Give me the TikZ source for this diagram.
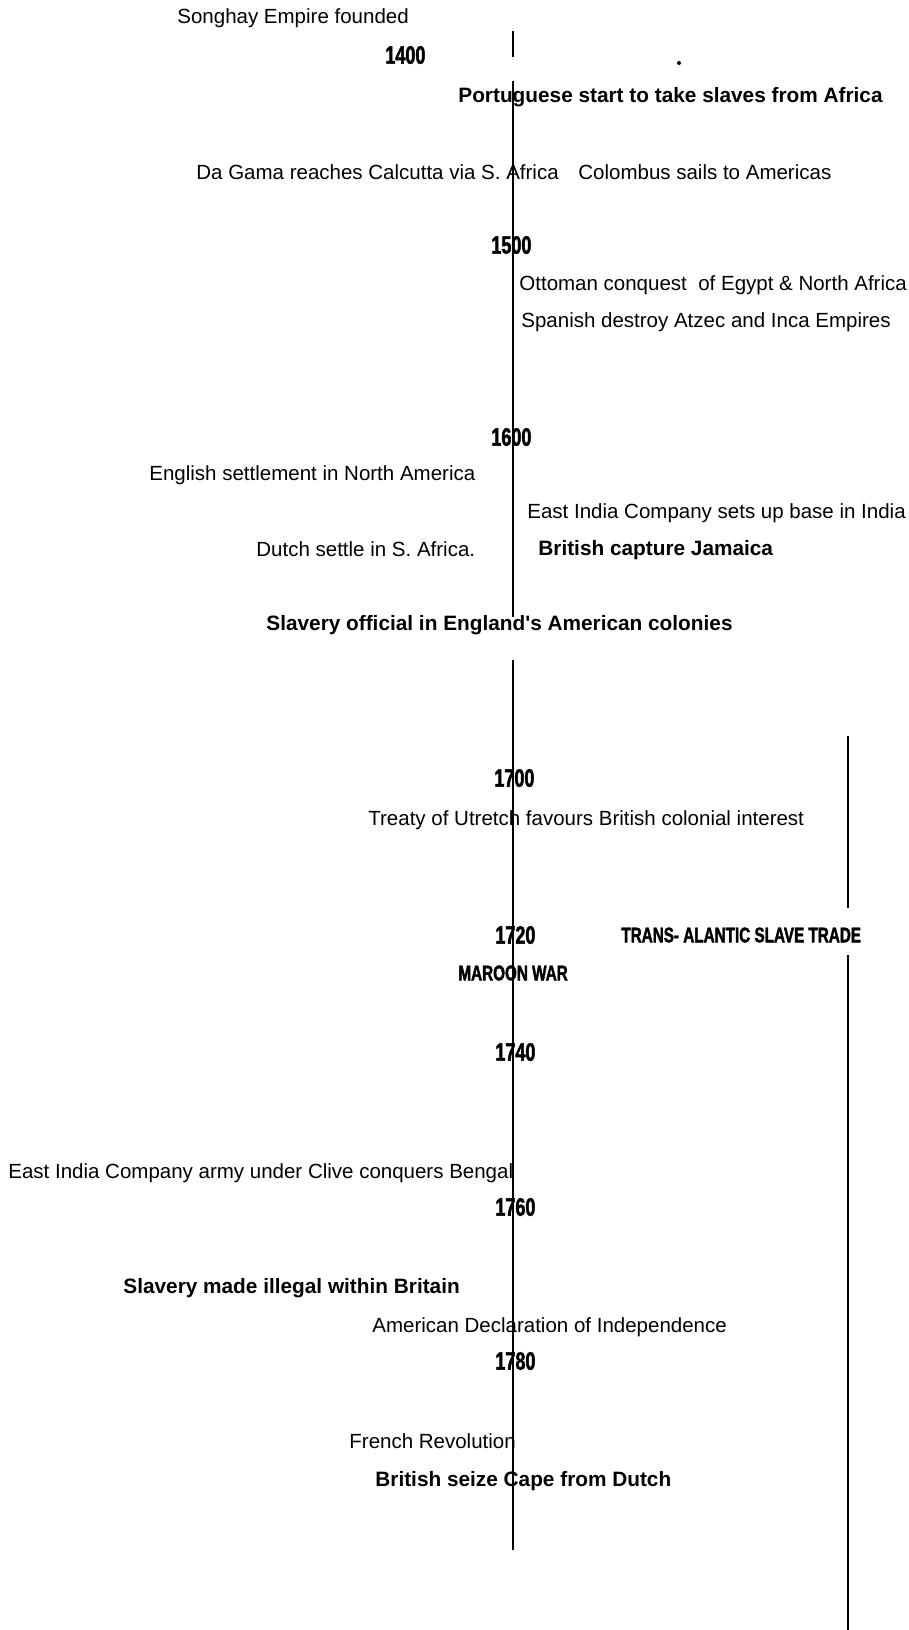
\documentclass[tikz,border=0pt]{standalone}
\usepackage{fontspec}
\setmainfont{Liberation Sans}
\newfontfamily\yearfont[FakeStretch=0.72,FakeBold=1.8]{Liberation Sans}
\tikzset{
  % an event, set plain
  ev/.style   = {font=\fontsize{10.25}{12}\selectfont, inner sep=0pt, anchor=west},
  % an event, set bold
  evb/.style  = {font=\fontsize{10.4}{12}\selectfont\bfseries, inner sep=0pt,
                 anchor=west},
  % a year on the time line
  yr/.style   = {font=\fontsize{12.5}{14}\selectfont\yearfont\bfseries,
                 inner sep=0pt, anchor=west},
  % a heading in the same heavy face
  hd/.style   = {font=\fontsize{10.6}{13}\selectfont\yearfont\bfseries,
                 inner sep=0pt, anchor=west},
  % the time lines
  tl/.style   = {line width=1pt},
}
\begin{document}
\begin{tikzpicture}[x=0.5pt, y=-0.5pt]
  \useasboundingbox (0,0) rectangle (909,1630);
  % --- the main time line, in three pieces ---
  \coordinate (ma) at (513,  31);
  \coordinate (mb) at (513,  57);
  \coordinate (mc) at (513,  81);
  \coordinate (md) at (513, 617);
  \coordinate (me) at (513, 660);
  \coordinate (mf) at (513,1550);
  \draw[tl] (ma) -- (mb);
  \draw[tl] (mc) -- (md);
  \draw[tl] (me) -- (mf);
  % --- the slave trade bar ---
  \coordinate (sa) at (848, 736);
  \coordinate (sb) at (848, 908);
  \coordinate (sc) at (848, 955);
  \coordinate (sd) at (848,1630);
  \draw[tl] (sa) -- (sb);
  \draw[tl] (sc) -- (sd);
  \fill (679,63) circle (2);
  % --- years ---
  \node[yr] (y1400) at (385,  55) {1400};
  \node[yr] (y1500) at (491, 245) {1500};
  \node[yr] (y1600) at (491, 437) {1600};
  \node[yr] (y1700) at (494, 778) {1700};
  \node[yr] (y1720) at (495, 935) {1720};
  \node[yr] (y1740) at (495,1052) {1740};
  \node[yr] (y1760) at (495,1207) {1760};
  \node[yr] (y1780) at (495,1361) {1780};
  % --- events ---
  \node[ev]  (songhay)  at (177,  18) {Songhay Empire founded};
  \node[evb] (portug)   at (458,  97) {Portuguese start to take slaves from Africa};
  \node[ev]  (dagama)   at (196, 172) {Da Gama reaches Calcutta via S. Africa};
  \node[ev]  (colomb)   at (578, 172) {Colombus sails to Americas};
  \node[ev]  (ottoman)  at (519, 285) {Ottoman conquest\ \ of Egypt \& North Africa};
  \node[ev]  (spanish)  at (521, 322) {Spanish destroy Atzec and Inca Empires};
  \node[ev]  (english)  at (149, 475) {English settlement in North America};
  \node[ev]  (eicbase)  at (527, 513) {East India Company sets up base in India};
  \node[ev]  (dutch)    at (256, 549) {Dutch settle in S. Africa.};
  \node[evb] (jamaica)  at (538, 550) {British capture Jamaica};
  \node[evb] (official) at (266, 625) {Slavery official in England\textquotesingle s American colonies};
  \node[ev]  (utrecht)  at (368, 820) {Treaty of Utretch favours British colonial interest};
  \node[hd]  (trade)    at (621, 935) {TRANS- ALANTIC SLAVE TRADE};
  \node[hd]  (maroon)   at (458, 973) {MAROON WAR};
  \node[ev]  (clive)    at (  8,1173) {East India Company army under Clive conquers Bengal};
  \node[evb] (illegal)  at (123,1288) {Slavery made illegal within Britain};
  \node[ev]  (amdecl)   at (372,1327) {American Declaration of Independence};
  \node[ev]  (french)   at (349,1441) {French Revolution};
  \node[evb] (cape)     at (375,1481) {British seize Cape from Dutch};
\end{tikzpicture}
\end{document}
